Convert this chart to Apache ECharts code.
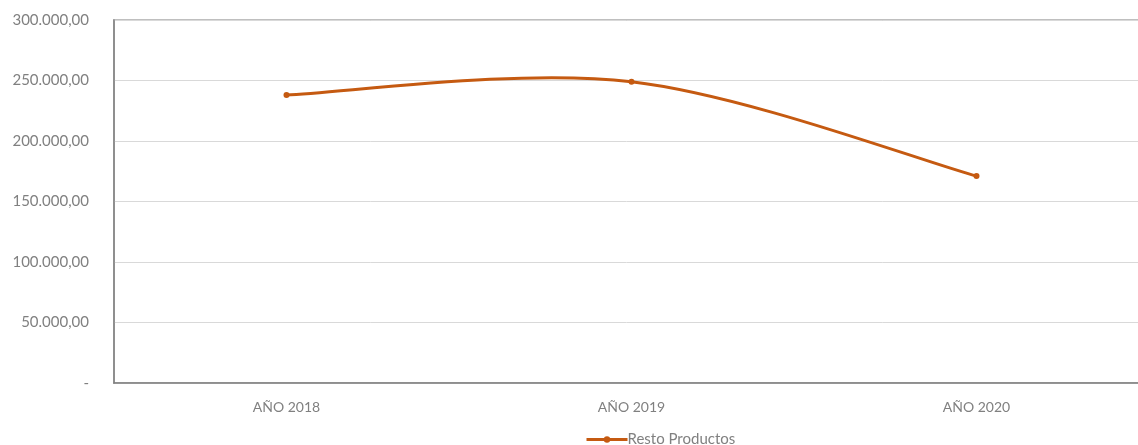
<!DOCTYPE html>
<html>
<head>
<meta charset="utf-8">
<script src="https://cdn.jsdelivr.net/npm/echarts@6/dist/echarts.min.js"></script>
<style>
html,body{margin:0;padding:0;background:#fff;}
#c{width:1138px;height:445px;}
</style>
</head>
<body>
<div id="c"></div>
<script>
var categories = ['AÑO 2018', 'AÑO 2019', 'AÑO 2020'];
var restoProductos = [238000, 249000, 171000];
var seriesName = 'Resto Productos';
var lineColor = '#c55a11';

function fmt(v) {
  if (v === 0) return '-';
  var s = Math.round(v).toString().replace(/\B(?=(\d{3})+(?!\d))/g, '.');
  return s + ',00';
}

// Excel-style smoothed segment (Catmull-Rom -> Bezier), points via the chart's own scales
function renderSegment(params, api) {
  var i = params.dataIndex;
  var n = restoProductos.length;
  if (i >= n - 1) return null;
  function P(k) {
    k = Math.max(0, Math.min(n - 1, k));
    return api.coord([k, restoProductos[k]]);
  }
  var p0 = P(i - 1), p1 = P(i), p2 = P(i + 1), p3 = P(i + 2);
  var c1 = [p1[0] + (p2[0] - p0[0]) / 6, p1[1] + (p2[1] - p0[1]) / 6];
  var c2 = [p2[0] - (p3[0] - p1[0]) / 6, p2[1] - (p3[1] - p1[1]) / 6];
  return {
    type: 'bezierCurve',
    shape: { x1: p1[0], y1: p1[1], cpx1: c1[0], cpy1: c1[1], cpx2: c2[0], cpy2: c2[1], x2: p2[0], y2: p2[1] },
    style: { stroke: lineColor, lineWidth: 3, fill: null, lineCap: 'round' }
  };
}

var chart = echarts.init(document.getElementById('c'));
chart.setOption({
  animation: false,
  backgroundColor: '#ffffff',
  textStyle: { fontFamily: 'Lato' },
  grid: {
    left: 114, top: 20, width: 1035, bottom: 62,
    outerBoundsMode: 'none',
    show: true, borderColor: '#bfbfbf', borderWidth: 2, backgroundColor: 'transparent'
  },
  legend: {
    data: [{ name: seriesName, lineStyle: { color: lineColor, width: 3, opacity: 1 } }],
    top: 427, left: 580,
    itemWidth: 41, itemHeight: 8, itemGap: 0,
    textStyle: { fontFamily: 'Lato', fontSize: 15, color: '#808080', padding: [0, 0, 0, -5] }
  },
  xAxis: {
    type: 'category',
    data: categories,
    boundaryGap: true,
    axisLine: { lineStyle: { color: '#7f7f7f', width: 1.5 } },
    axisTick: { show: false },
    axisLabel: { fontFamily: 'Lato', fontSize: 14, color: '#808080', margin: 17 }
  },
  yAxis: {
    type: 'value',
    min: 0, max: 300000, interval: 50000,
    axisLine: { show: true, lineStyle: { color: '#7f7f7f', width: 1.5 } },
    axisTick: { show: false },
    splitLine: { lineStyle: { color: '#d9d9d9', width: 1 } },
    axisLabel: { fontFamily: 'Lato', fontSize: 15, color: '#808080', margin: 25, formatter: fmt }
  },
  series: [{
    name: 'curve',
    type: 'custom',
    renderItem: renderSegment,
    data: restoProductos.map(function (v, k) { return [k, v]; }),
    z: 2,
    silent: true
  }, {
    name: seriesName,
    type: 'line',
    data: restoProductos,
    symbol: 'circle',
    symbolSize: 6,
    z: 3,
    lineStyle: { color: lineColor, width: 3, opacity: 0 },
    itemStyle: { color: lineColor }
  }]
});
</script>
</body>
</html>
